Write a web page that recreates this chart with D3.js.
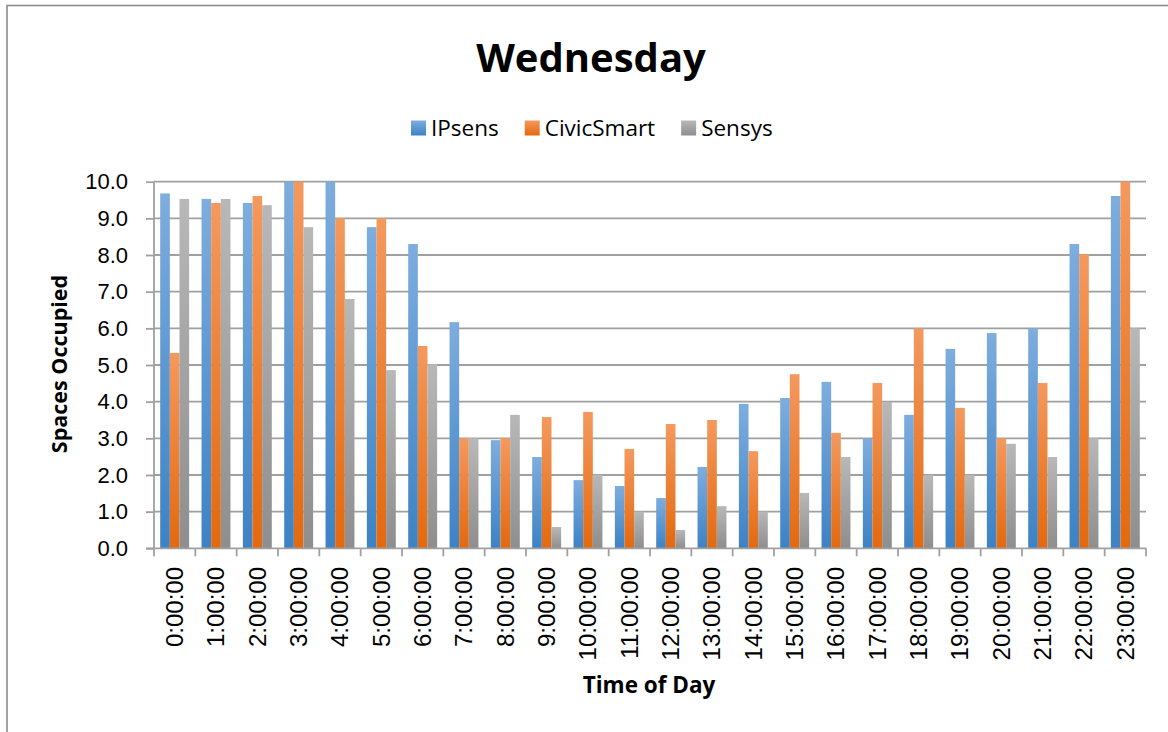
<!DOCTYPE html>
<html>
<head>
<meta charset="utf-8">
<script src="https://cdn.jsdelivr.net/npm/d3@7"></script>
<style>
  html, body { margin: 0; padding: 0; background: #fff; }
  svg { display: block; }
</style>
</head>
<body>
<div id="chart"></div>
<script>
// values
var hours = ['0:00:00', '1:00:00', '2:00:00', '3:00:00', '4:00:00', '5:00:00',
  '6:00:00', '7:00:00', '8:00:00', '9:00:00', '10:00:00', '11:00:00',
  '12:00:00', '13:00:00', '14:00:00', '15:00:00', '16:00:00', '17:00:00',
  '18:00:00', '19:00:00', '20:00:00', '21:00:00', '22:00:00', '23:00:00']

var ipsens = [9.68, 9.53, 9.42, 10, 10, 8.76, 8.3, 6.17, 2.95, 2.49, 1.86, 1.7,
  1.37, 2.22, 3.94, 4.1, 4.54, 3.0, 3.64, 5.44, 5.87, 6.0, 8.3, 9.61]
var civicSmart = [5.33, 9.42, 9.61, 10, 9.0, 9.0, 5.52, 3.0, 3.0, 3.58, 3.72, 2.71,
  3.39, 3.5, 2.65, 4.75, 3.15, 4.51, 6.0, 3.83, 3.0, 4.51, 8.02, 10]
var sensys = [9.53, 9.53, 9.36, 8.76, 6.8, 4.86, 5.02, 3.0, 3.64, 0.58, 2.0, 1.0,
  0.5, 1.15, 1.0, 1.51, 2.49, 3.99, 2.0, 2.0, 2.85, 2.49, 3.0, 6.0]

var seriesNames = ['IPsens', 'CivicSmart', 'Sensys']
var yTicks = [0, 1, 2, 3, 4, 5, 6, 7, 8, 9, 10]

var series = [ipsens, civicSmart, sensys]
var colors = [
  {top: '#7eadde', bot: '#3d82c4'},
  {top: '#f4995e', bot: '#e2690f'},
  {top: '#b8b8b8', bot: '#8e8e8e'}
]

var W = 1168, H = 732
var plot = {left: 154, right: 1146, top: 181.7, bottom: 548.3}

var svg = d3.select('#chart').append('svg')
  .attr('width', W).attr('height', H)

var defs = svg.append('defs')
colors.forEach(function(c, i){
  var g = defs.append('linearGradient')
    .attr('id', 'grad' + i)
    .attr('x1', 0).attr('y1', 0).attr('x2', 0).attr('y2', 1)
  g.append('stop').attr('offset', '0%').attr('stop-color', c.top)
  g.append('stop').attr('offset', '100%').attr('stop-color', c.bot)
})

// outer frame (only top and left edges are visible)
svg.append('rect')
  .attr('x', 7).attr('y', 5.5)
  .attr('width', 1300).attr('height', 900)
  .attr('fill', 'none')
  .attr('stroke', '#8c8c8c')
  .attr('stroke-width', 1.6)

var x0 = d3.scaleBand().domain(hours).range([plot.left, plot.right])
var bw = x0.bandwidth()
var x1 = d3.scaleBand().domain(seriesNames).range([bw * 0.15, bw * 0.85])
var y = d3.scaleLinear().domain([0, 10]).range([plot.bottom, plot.top])

// gridlines
svg.append('g').selectAll('line')
  .data(yTicks.filter(function(d){ return d > 0 }))
  .join('line')
  .attr('x1', plot.left).attr('x2', plot.right)
  .attr('y1', function(d){ return y(d) }).attr('y2', function(d){ return y(d) })
  .attr('stroke', '#a0a0a0').attr('stroke-width', 1.8)

// bars
var groups = svg.append('g').selectAll('g')
  .data(hours)
  .join('g')
  .attr('transform', function(d){ return 'translate(' + x0(d) + ',0)' })

groups.selectAll('rect')
  .data(function(d, i){
    return series.map(function(s, k){ return {name: seriesNames[k], k: k, val: s[i]} })
  })
  .join('rect')
  .attr('x', function(d){ return x1(d.name) })
  .attr('width', x1.bandwidth())
  .attr('y', function(d){ return y(d.val) })
  .attr('height', function(d){ return y(0) - y(d.val) })
  .attr('fill', function(d){ return 'url(#grad' + d.k + ')' })

// y axis
var yAxis = svg.append('g')
  .attr('transform', 'translate(' + plot.left + ',0)')
  .call(d3.axisLeft(y).tickValues(yTicks).tickFormat(d3.format('.1f')).tickSize(8).tickPadding(18))
yAxis.select('.domain').attr('stroke', '#a0a0a0').attr('stroke-width', 1.8).attr('d', 'M0,' + plot.bottom + 'V' + plot.top)
yAxis.selectAll('.tick line').attr('stroke', '#a0a0a0').attr('stroke-width', 1.8)
yAxis.selectAll('.tick text')
  .attr('font-family', 'Liberation Sans, Arial, sans-serif')
  .attr('font-size', 22).attr('fill', '#000')

// x axis
var xAxisG = svg.append('g')
svg.append('line')
  .attr('x1', plot.left - 8).attr('x2', plot.right)
  .attr('y1', plot.bottom).attr('y2', plot.bottom)
  .attr('stroke', '#a0a0a0').attr('stroke-width', 1.8)

xAxisG.selectAll('line.tick')
  .data(hours.concat(['end']))
  .join('line')
  .attr('class', 'tick')
  .attr('x1', function(d, i){ return plot.left + i * bw })
  .attr('x2', function(d, i){ return plot.left + i * bw })
  .attr('y1', plot.bottom).attr('y2', plot.bottom + 8)
  .attr('stroke', '#a0a0a0').attr('stroke-width', 1.8)

xAxisG.selectAll('text')
  .data(hours)
  .join('text')
  .attr('transform', function(d){
    return 'translate(' + (x0(d) + bw / 2) + ',' + 567 + ') rotate(-90)'
  })
  .attr('text-anchor', 'end')
  .attr('dy', '0.35em')
  .attr('font-family', 'Liberation Sans, Arial, sans-serif')
  .attr('font-size', 24)
  .attr('fill', '#000')
  .text(function(d){ return d })

// title
svg.append('text')
  .attr('x', 591).attr('y', 72)
  .attr('text-anchor', 'middle')
  .attr('font-family', 'Open Sans, sans-serif')
  .attr('font-weight', 'bold')
  .attr('font-size', 40)
  .text('Wednesday')

// axis titles
svg.append('text')
  .attr('x', 649).attr('y', 693)
  .attr('text-anchor', 'middle')
  .attr('font-family', 'Open Sans, sans-serif')
  .attr('font-weight', 'bold')
  .attr('font-size', 22.5)
  .text('Time of Day')

svg.append('text')
  .attr('transform', 'translate(67,' + 364 + ') rotate(-90)')
  .attr('text-anchor', 'middle')
  .attr('font-family', 'Open Sans, sans-serif')
  .attr('font-weight', 'bold')
  .attr('font-size', 21.5)
  .text('Spaces Occupied')

// legend
var legend = svg.append('g')
var lx = 411
seriesNames.forEach(function(name, i){
  legend.append('rect')
    .attr('x', lx).attr('y', 120.5)
    .attr('width', 15).attr('height', 15)
    .attr('fill', 'url(#grad' + i + ')')
  var t = legend.append('text')
    .attr('x', lx + 20).attr('y', 128)
    .attr('dy', '0.35em')
    .attr('font-family', 'Open Sans, sans-serif')
    .attr('font-size', 22.5)
    .text(name)
  lx += 20 + t.node().getComputedTextLength() + 26
})
</script>
</body>
</html>
